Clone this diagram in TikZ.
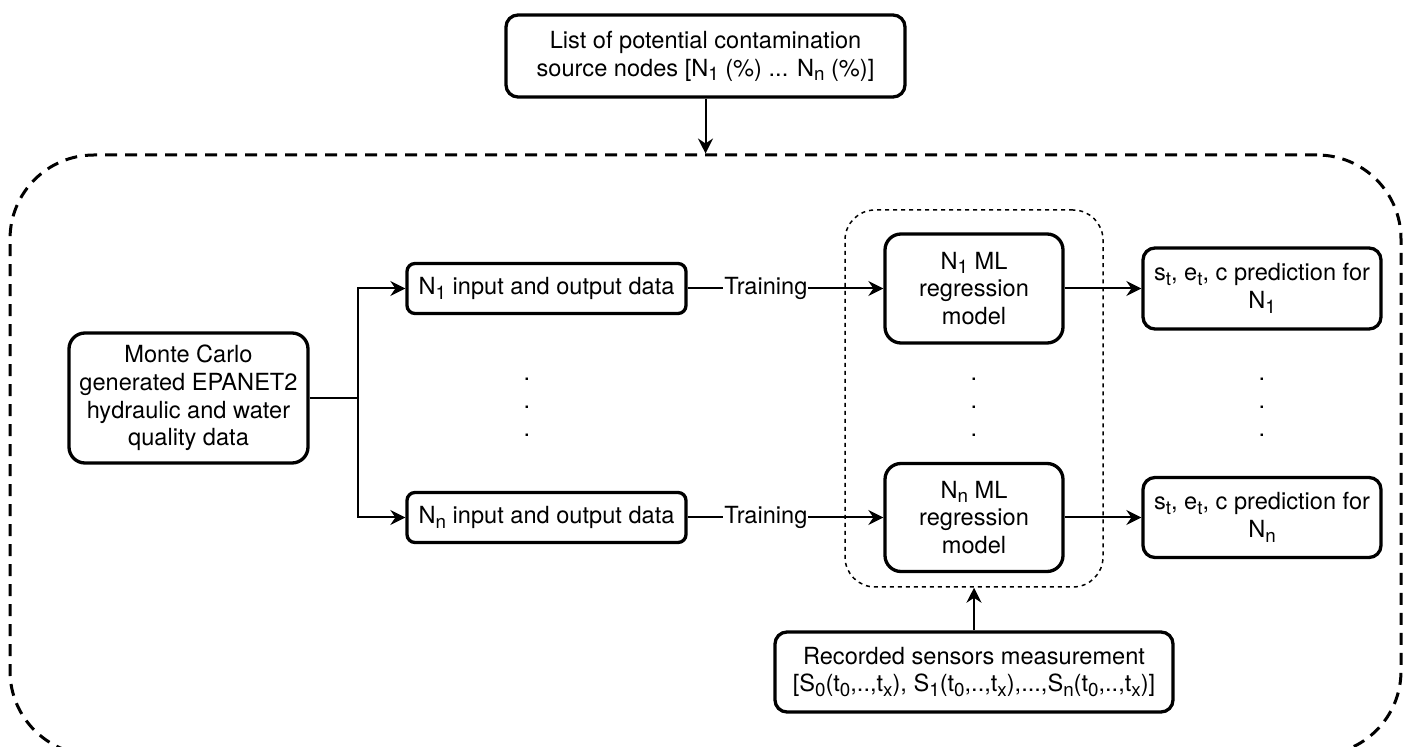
\documentclass[tikz,border=0pt]{standalone}
\usepackage{fontspec}
\setmainfont{TeX Gyre Heros}
\usetikzlibrary{arrows.meta}
\newcommand{\subtxt}[1]{\raisebox{-2.4pt}{\fontsize{9.4}{9.4}\selectfont #1}}

\begin{document}
\begin{tikzpicture}[x=0.5pt,y=-0.5pt,font=\fontsize{11.8}{13.9}\selectfont,
    blk/.style={draw,line width=1.65pt,rounded corners=6pt,align=center,inner sep=1pt,fill=white},
    arr/.style={-{Stealth[length=7.5pt,width=7.5pt,inset=2.5pt]},line width=1pt},
    dotcol/.style={align=center,inner sep=0pt}]
              \path[use as bounding box,fill=white] (0,0) rectangle (1408,747);
              % dashed frames
              \node[draw,line width=1.5pt,dash pattern=on 6pt off 4pt,rounded corners=42pt,minimum width=695.5pt,minimum height=300pt](outer)at(705.5,455){};
              \node[draw,line width=0.75pt,dash pattern=on 2pt off 2pt,rounded corners=15pt,minimum width=129pt,minimum height=188.5pt](grp)at(974,398.5){};
              % boxes
              \node[blk,minimum width=199.5pt,minimum height=41pt](src)at(705.5,56){List of potential contamination\\source nodes [N\subtxt{1} (\%) ... N\subtxt{n} (\%)]};
              \node[blk,minimum width=119.5pt,minimum height=65pt,rounded corners=8pt](mc)at(188.5,398){Monte Carlo\\generated EPANET2\\hydraulic and water\\quality data};
              \node[blk,minimum width=139.5pt,minimum height=25pt,rounded corners=4pt](in1)at(546.5,288.5){N\subtxt{1} input and output data};
              \node[blk,minimum width=139.5pt,minimum height=25pt,rounded corners=4pt](inn)at(546.5,517.5){N\subtxt{n} input and output data};
              \node[blk,minimum width=89pt,minimum height=54.5pt,rounded corners=8pt](ml1)at(974,288.5){N\subtxt{1} ML\\regression\\model};
              \node[blk,minimum width=89pt,minimum height=54pt,rounded corners=8pt](mln)at(974,517.5){N\subtxt{n} ML\\regression\\model};
              \node[blk,minimum width=119pt,minimum height=40.5pt](pr1)at(1262,288.5){s\subtxt{t}, e\subtxt{t}, c prediction for\\N\subtxt{1}};
              \node[blk,minimum width=119pt,minimum height=40pt](prn)at(1262,517.5){s\subtxt{t}, e\subtxt{t}, c prediction for\\N\subtxt{n}};
              \node[blk,minimum width=199pt,minimum height=40pt](rec)at(974,672){Recorded sensors measurement\\{}[S\subtxt{0}(t\subtxt{0},..,t\subtxt{x}), S\subtxt{1}(t\subtxt{0},..,t\subtxt{x}),...,S\subtxt{n}(t\subtxt{0},..,t\subtxt{x})]};
              % dots
              \node[dotcol](d1)at(527,407){.\\.\\.};
              \node[dotcol](d2)at(974,407){.\\.\\.};
              \node[dotcol](d3)at(1262,407){.\\.\\.};
              % connectors
              \coordinate(split)at(358,398);
              \draw[line width=1pt](mc)--(split);
              \draw[arr](split)|-(in1);
              \draw[arr](split)|-(inn);
              \draw[arr](in1)--node[pos=0.4,fill=white,inner sep=0.5pt](t1){Training}(ml1);
              \draw[arr](inn)--node[pos=0.4,fill=white,inner sep=0.5pt](tn){Training}(mln);
              \draw[arr](ml1)--(pr1);
              \draw[arr](mln)--(prn);
              \draw[arr](src)--(outer);
              \draw[arr](rec)--(grp);
            \end{tikzpicture}
\end{document}
